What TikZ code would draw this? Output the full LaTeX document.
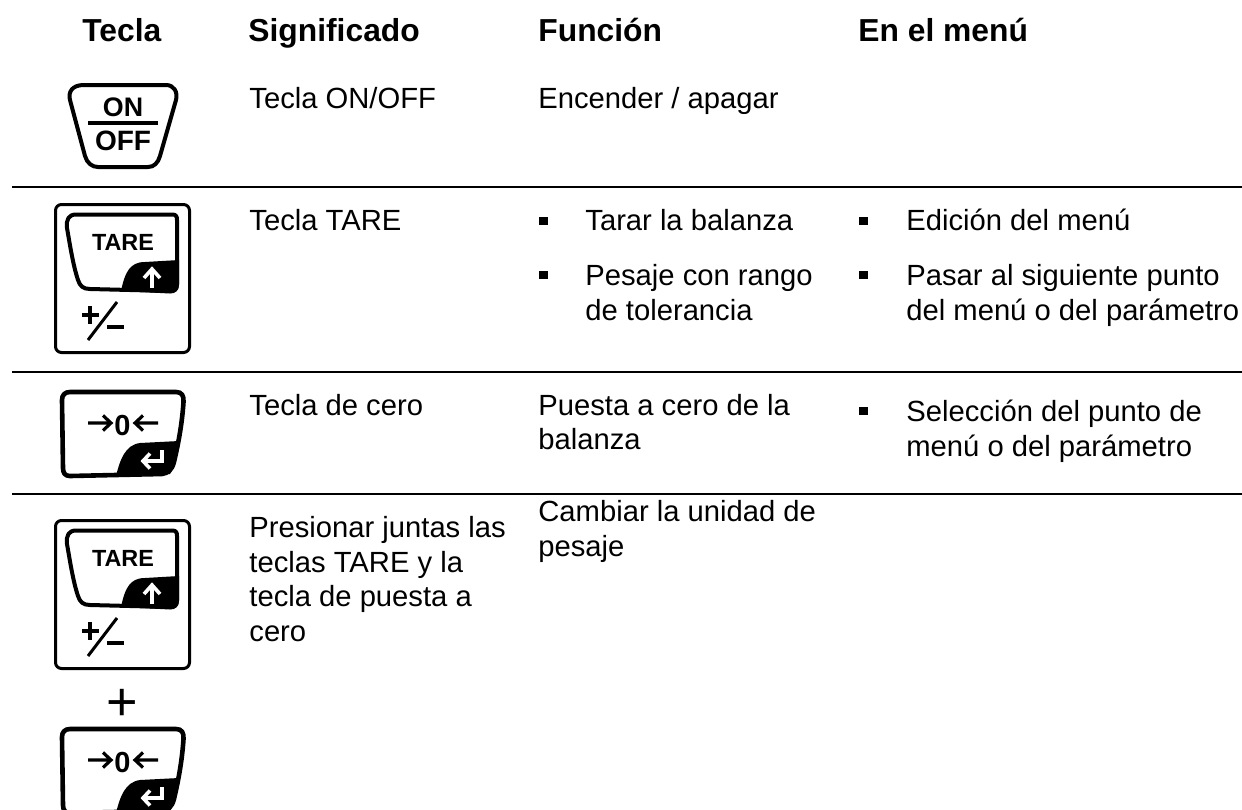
\documentclass[tikz,border=0pt]{standalone}
\usepackage{fontspec}
\setmainfont{Liberation Sans}
\tikzset{
  x=0.5pt,y=-0.5pt,
  body/.style={anchor=base west,inner sep=0pt,align=left,font=\fontsize{14.6}{17.2}\selectfont},
  head/.style={anchor=base west,inner sep=0pt,font=\fontsize{15.9}{18}\selectfont\bfseries},
  keytext/.style={anchor=base,inner sep=0pt,font=\bfseries},
  rulebar/.style={line width=1pt,black},
  sqbullet/.style={fill=black,inner sep=0pt,minimum size=4.3pt,shape=rectangle},
  pics/onkey/.style={code={
    \draw[line width=2pt,line join=round]
      (84,85) -- (166,85) .. controls (174,85) and (178,92) .. (176,100)
      -- (160,156) .. controls (158,163) and (154,167) .. (148,167)
      -- (98,167) .. controls (92,167) and (87,163) .. (85,156)
      -- (70,100) .. controls (68,92) and (72,85) .. (84,85) -- cycle;
    \node[keytext,font=\fontsize{13.4}{14}\selectfont\bfseries] (on) at (123,116) {ON};
    \draw[line width=1.75pt] (88,123) -- (158,123);
    \node[keytext,font=\fontsize{14}{15}\selectfont\bfseries] (off) at (123,150.5) {OFF};
  }},
  pics/tarekey/.style={code={
    \draw[line width=1.5pt,rounded corners=3pt] (55.5,204.5) rectangle (189.5,352.5);
    \draw[line width=2pt,line join=round]
      (76,214.5) -- (172,214.5) .. controls (176,214.5) and (177,216) .. (177,220)
      -- (177,284) .. controls (177,289) and (174,291) .. (170,291)
      -- (90,289) .. controls (83,289) and (80,286) .. (78,280)
      .. controls (73,265) and (70,245) .. (67,228)
      .. controls (66,219) and (69,214.5) .. (76,214.5) -- cycle;
    \fill (121,291) .. controls (125,272) and (130,262) .. (145,262)
      -- (179,260) -- (179,285) .. controls (179,291) and (175,293.5) .. (170,293.5) -- cycle;
    \draw[white,line width=1.8pt] (152,271) -- (152,288);
    \draw[white,line width=1.8pt] (144,278) -- (152,269) -- (160,278);
    \node[keytext,font=\fontsize{11.7}{12}\selectfont\bfseries] (tare) at (123,250.7) {TARE};
    \draw[line width=1.8pt] (82,315) -- (99,315) (90,306) -- (90,324);
    \draw[line width=1.5pt] (117,302) -- (88,340);
    \draw[line width=1.8pt] (107,327) -- (124,327);
  }},
  pics/zerokey/.style={code={
    \draw[line width=2.3pt,line join=round]
      (70,392) -- (176,392) .. controls (182,392) and (184,396) .. (183.5,402)
      .. controls (182,425) and (178,445) .. (174,462)
      .. controls (172,470) and (168,473) .. (162,474)
      -- (70,476) .. controls (65,476) and (63,473) .. (63,468)
      -- (62,400) .. controls (62,395) and (65,392) .. (70,392) -- cycle;
    \fill (116,476) .. controls (120,460) and (125,445) .. (140,443)
      -- (179,441) .. controls (177,452) and (175,460) .. (173,468)
      -- (170,474) -- cycle;
    \draw[white,line width=1.8pt] (145,461) -- (162,461) -- (162,450);
    \draw[white,line width=1.8pt] (150,453.5) -- (143,461) -- (150,468.5);
    \node[keytext,font=\fontsize{14.5}{15}\selectfont\bfseries] (zero) at (122.5,435) {0};
    \draw[line width=1.6pt] (88,423) -- (111,423) (103,415.5) -- (111,423) -- (103,430.5);
    \draw[line width=1.6pt] (158,423) -- (135,423) (143,415.5) -- (135,423) -- (143,430.5);
  }}
}
\begin{document}
\begin{tikzpicture}
\path[use as bounding box,clip] (0,0) rectangle (1242,809);
\fill[white] (0,0) rectangle (1242,809);
% headers
\node[head] (h1) at (82,41.5) {Tecla};
\node[head] (h2) at (248,41.5) {Significado};
\node[head] (h3) at (538,41.5) {Función};
\node[head] (h4) at (858,41.5) {En el menú};
% rules
\draw[rulebar] (12,187) -- (1242,187);
\draw[rulebar] (12,372) -- (1242,372);
\draw[rulebar] (12,494) -- (1242,494);
% keys
\pic (ka) at (0,0) {onkey};
\pic (kb) at (0,0) {tarekey};
\pic (kc) at (0,0) {zerokey};
\pic (kd) at (0,316) {tarekey};
\node[anchor=base,inner sep=0pt,font=\fontsize{27}{28}\selectfont] (plus) at (122.5,720.5) {+};
\pic (ke) at (0,337) {zerokey};
% row 1 (a multi-line node's base is its last line)
\node[body] (r1a) at (249,108) {Tecla ON/OFF};
\node[body] (r1b) at (538,108) {Encender / apagar};
% row 2
\node[body] (r2a) at (249,230) {Tecla TARE};
\node[sqbullet] (b1) at (543.5,221) {};
\node[body] (r2b) at (585,230) {Tarar la balanza};
\node[sqbullet] (b2) at (543.5,275) {};
\node[body] (r2c) at (585,320) {Pesaje con rango\\de tolerancia};
\node[sqbullet] (b3) at (863.5,221) {};
\node[body] (r2d) at (906,230) {Edición del menú};
\node[sqbullet] (b4) at (863.5,275) {};
\node[body] (r2e) at (906,320) {Pasar al siguiente punto\\del menú o del parámetro};
% row 3
\node[body] (r3a) at (249,415) {Tecla de cero};
\node[body] (r3b) at (538,449.5) {Puesta a cero de la\\balanza};
\node[sqbullet] (b5) at (863.5,411) {};
\node[body] (r3c) at (906,456) {Selección del punto de\\menú o del parámetro};
% row 4
\node[body] (r4a) at (249,641) {Presionar juntas las\\teclas TARE y la\\tecla de puesta a\\cero};
\node[body] (r4b) at (538,556) {Cambiar la unidad de\\pesaje};
\end{tikzpicture}
\end{document}
